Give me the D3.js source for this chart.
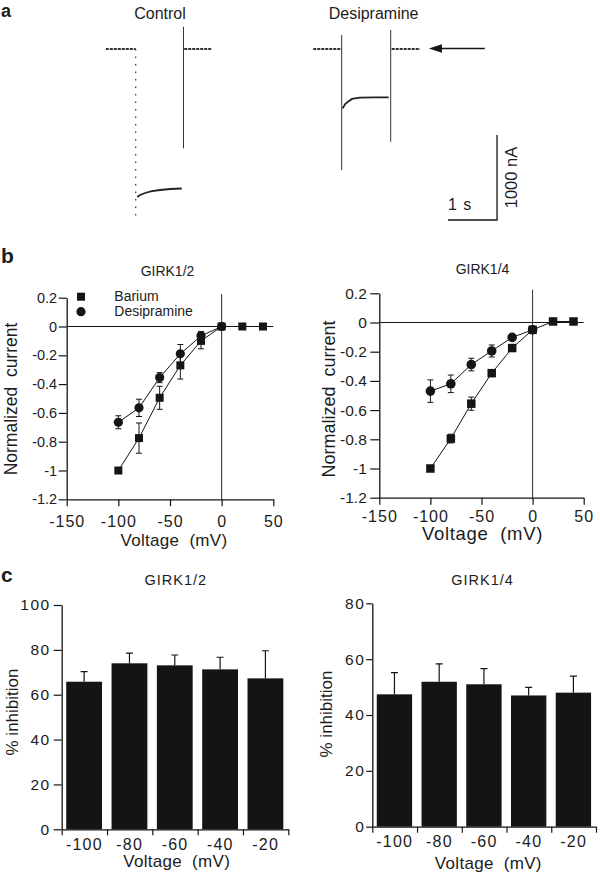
<!DOCTYPE html>
<html><head><meta charset="utf-8">
<script src="https://cdn.jsdelivr.net/npm/d3@7"></script>
<style>body{margin:0;background:#fff} svg{display:block}</style>
</head><body><svg id="fig" width="600" height="875"></svg>
<script>
// ---------------- DATA ----------------
// Panel b: I-V curves (normalized current vs voltage, mV)
const voltages = [-100, -80, -60, -40, -20, 0, 20, 40];
const desiVoltages = [-100, -80, -60, -40, -20, 0];
const barium12 = [-1.0, -0.775, -0.495, -0.27, -0.10, 0, 0, 0];
const barium12Err = [0, 0.105, 0.08, 0.095, 0.055, 0, 0, 0];
const desi12 = [-0.665, -0.565, -0.355, -0.19, -0.065, 0];
const desi12Err = [0.045, 0.06, 0.035, 0.065, 0.03, 0];
const barium14 = [-1.0, -0.795, -0.556, -0.347, -0.175, -0.05, 0.007, 0.007];
const barium14Err = [0, 0.03, 0.045, 0, 0, 0, 0, 0];
const desi14 = [-0.47, -0.42, -0.288, -0.195, -0.102, -0.05];
const desi14Err = [0.077, 0.06, 0.043, 0.041, 0.012, 0];
const ivXTicks = [-150, -100, -50, 0, 50];
const ivYTicks = [0.2, 0, -0.2, -0.4, -0.6, -0.8, -1, -1.2];
const legendLabels = ["Barium", "Desipramine"];

// Panel c: % inhibition bars
const barCats = ["-100", "-80", "-60", "-40", "-20"];
const inhib12 = [65.8, 74.0, 73.1, 71.3, 67.3];
const inhib12Err = [4.5, 4.5, 4.6, 5.4, 12.3];
const inhib14 = [47.4, 51.9, 51.0, 47.0, 48.0];
const inhib14Err = [7.8, 6.4, 5.6, 2.9, 5.9];
const inhib12Ticks = [0, 20, 40, 60, 80, 100];
const inhib14Ticks = [0, 20, 40, 60, 80];

// Panel a: current traces (time in s relative to pulse onset, current in nA)
const controlPre = [[-0.61, 0], [0, 0]];
const controlPulse = [[0.03, -1741], [0.09, -1718], [0.19, -1694], [0.33, -1671], [0.5, -1659], [0.7, -1647], [0.94, -1641]];
const controlPost = [[0.99, 0], [1.54, 0]];
const controlSpikes = [[0, 0, -1975], [0.975, 262, -1168]];
const desiPre = [[-0.58, 0], [0, 0]];
const desiPulse = [[0.02, -698], [0.07, -647], [0.13, -620], [0.21, -588], [0.37, -573], [0.68, -568], [0.96, -568]];
const desiPost = [[1.02, 0], [1.6, 0]];
const desiSpikes = [[0, 165, -1424], [1.0, 224, -1090]];
const arrowSpan = [2.92, 1.78];          // s, along the baseline of the desipramine trace
const scaleBarStart = [2.17, -2012];      // s, nA
const scaleBarSize = [1, 1000];           // 1 s, 1000 nA

// ---------------- DRAWING ----------------
const FONT = '"Liberation Sans", Arial, Helvetica, sans-serif';
const INK = "#151515";
const svg = d3.select("#fig");
svg.append("rect").attr("width", 600).attr("height", 875).attr("fill", "#fff");

function txt(x, y, s, size, opt = {}) {
  const t = svg.append("text").attr("x", x).attr("y", y).text(s)
    .attr("font-family", FONT).attr("font-size", size).attr("fill", opt.fill || "#1c1c1c")
    .attr("text-anchor", opt.anchor || "start");
  if (opt.bold) t.attr("font-weight", "bold");
  if (opt.ls) t.attr("letter-spacing", opt.ls);
  if (opt.rot) t.attr("transform", `rotate(${opt.rot},${x},${y})`);
  return t;
}

// panel letters
txt(1, 16.5, "a", 18, { bold: true });
txt(1, 263, "b", 21, { bold: true });
txt(1, 582, "c", 21, { bold: true });

// ---- Panel a ----
const iScale = d3.scaleLinear().domain([0, -1000]).range([49, 134]);
const tC = d3.scaleLinear().domain([0, 1]).range([135.7, 184.7]);
const tD = d3.scaleLinear().domain([0, 1]).range([341.7, 390.7]);

txt(160, 18.5, "Control", 16, { anchor: "middle" });
txt(373.6, 18.5, "Desipramine", 16, { anchor: "middle" });

function drawTrace(xs, pre, pulse, post, spikes, dottedOnset) {
  const ln = d3.line().x(d => xs(d[0])).y(d => iScale(d[1]));
  [pre, post].forEach(seg => {
    svg.append("path").attr("d", ln(seg)).attr("fill", "none")
      .attr("stroke", "#333").attr("stroke-width", 2.2).attr("stroke-dasharray", "3,1");
  });
  svg.append("path").attr("d", ln(pulse)).attr("fill", "none")
    .attr("stroke", "#222").attr("stroke-width", 1.8);
  spikes.forEach((s, i) => {
    const l = svg.append("line").attr("x1", xs(s[0])).attr("x2", xs(s[0]))
      .attr("y1", iScale(s[1])).attr("y2", iScale(s[2]))
      .attr("stroke", "#333").attr("stroke-width", 1);
    if (dottedOnset && i === 0) l.attr("stroke-dasharray", "1.5,6").attr("stroke-width", 1.2);
  });
}
drawTrace(tC, controlPre, controlPulse, controlPost, controlSpikes, true);
drawTrace(tD, desiPre, desiPulse, desiPost, desiSpikes, false);

// arrow pointing to baseline
{
  const ax0 = tD(arrowSpan[0]), ax1 = tD(arrowSpan[1]), ay = iScale(0) - 0.5;
  svg.append("line").attr("x1", ax0).attr("x2", ax1 + 10).attr("y1", ay).attr("y2", ay)
    .attr("stroke", INK).attr("stroke-width", 1.5);
  svg.append("path").attr("d", `M${ax1},${ay} L${ax1 + 13},${ay - 4.3} L${ax1 + 13},${ay + 4.3} Z`).attr("fill", INK);
}
// scale bar
{
  const sx0 = tD(scaleBarStart[0]), sx1 = tD(scaleBarStart[0] + scaleBarSize[0]);
  const sy0 = iScale(scaleBarStart[1]), sy1 = iScale(scaleBarStart[1] + scaleBarSize[1]);
  svg.append("path").attr("d", `M${sx0},${sy0} L${sx1},${sy0} L${sx1},${sy1}`)
    .attr("fill", "none").attr("stroke", INK).attr("stroke-width", 1.3);
  txt(sx0, sy0 - 10, "1 s", 16, { ls: 1 });
  txt(sx1 + 20, (sy0 + sy1) / 2, "1000 nA", 16.5, { anchor: "middle", rot: -90 });
}

// ---- Panel b ----
function styleAxis(g, size, ls) {
  g.attr("font-family", FONT);
  g.select(".domain").attr("stroke", INK).attr("stroke-width", 1.3);
  g.selectAll(".tick line").attr("stroke", INK).attr("stroke-width", 1.2);
  g.selectAll(".tick text").attr("fill", "#1c1c1c").attr("font-size", size);
  if (ls) g.selectAll(".tick text").attr("letter-spacing", ls);
}

function ivPanel(cfg) {
  const x = d3.scaleLinear().domain([-150, 50]).range(cfg.xr);
  const y = d3.scaleLinear().domain([-1.2, 0.2]).range(cfg.yr);
  const g = svg.append("g");
  g.append("line").attr("x1", x(-150)).attr("x2", x(50)).attr("y1", y(0)).attr("y2", y(0))
    .attr("stroke", INK).attr("stroke-width", 1.1);
  g.append("line").attr("x1", x(0)).attr("x2", x(0)).attr("y1", y(0.225)).attr("y2", y(-1.2))
    .attr("stroke", INK).attr("stroke-width", 0.9);
  const ya = g.append("g").attr("transform", `translate(${x(-150)},0)`)
    .call(d3.axisLeft(y).tickValues(ivYTicks).tickFormat(d => String(d)).tickSize(cfg.ytick).tickPadding(cfg.ypad).tickSizeOuter(0));
  styleAxis(ya, cfg.yfs);
  const xa = g.append("g").attr("transform", `translate(0,${y(-1.2)})`)
    .call(d3.axisBottom(x).tickValues(ivXTicks).tickFormat(d => String(d)).tickSize(7).tickPadding(cfg.xpad).tickSizeOuter(0));
  styleAxis(xa, 16, 1);

  const ln = d3.line().x(d => x(d[0])).y(d => y(d[1]));
  const bar = voltages.map((v, i) => [v, cfg.ba[i], cfg.baE[i]]);
  const des = desiVoltages.map((v, i) => [v, cfg.de[i], cfg.deE[i]]);
  [bar, des].forEach(ser => {
    g.append("path").attr("d", ln(ser)).attr("fill", "none").attr("stroke", INK).attr("stroke-width", 1);
    ser.filter(d => d[2] > 0).forEach(d => {
      const cx = x(d[0]), ya1 = y(d[1] + d[2]), ya2 = y(d[1] - d[2]);
      g.append("path").attr("d", `M${cx},${ya1} L${cx},${ya2} M${cx - 3},${ya1} L${cx + 3},${ya1} M${cx - 3},${ya2} L${cx + 3},${ya2}`)
        .attr("stroke", INK).attr("stroke-width", 1).attr("fill", "none");
    });
  });
  des.forEach(d => g.append("circle").attr("cx", x(d[0])).attr("cy", y(d[1])).attr("r", cfg.r).attr("fill", INK));
  bar.forEach(d => g.append("rect").attr("x", x(d[0]) - cfg.sq / 2).attr("y", y(d[1]) - cfg.sq / 2)
    .attr("width", cfg.sq).attr("height", cfg.sq).attr("fill", INK));

  txt(cfg.title[0], cfg.title[1], cfg.name, 14, { anchor: "middle" });
  txt(cfg.ylab[0], cfg.ylab[1], "Normalized\u00A0 current", cfg.ylab[2], { anchor: "middle", rot: -90 });
  txt(cfg.xlab[0], cfg.xlab[1], "Voltage\u00A0 (mV)", cfg.xlab[2], { anchor: "middle", ls: cfg.xlab[3] });
  return { x, y, g };
}

ivPanel({
  xr: [66.7, 273.3], yr: [499.3, 297.7], ytick: 8, ypad: 1.5, yfs: 14.5, xpad: 9,
  ba: barium12, baE: barium12Err, de: desi12, deE: desi12Err, sq: 8, r: 4.6,
  name: "GIRK1/2", title: [167.5, 276], ylab: [16.5, 399, 17.5], xlab: [174, 546, 17, 0.3]
});
ivPanel({
  xr: [379.3, 583.7], yr: [497.7, 293.3], ytick: 9, ypad: 3.5, yfs: 15.5, xpad: 5.5,
  ba: barium14, baE: barium14Err, de: desi14, deE: desi14Err, sq: 8.5, r: 4.8,
  name: "GIRK1/4", title: [482.5, 274.3], ylab: [335, 399, 18], xlab: [482.5, 540, 18.5, 0.7]
});
// legend
svg.append("rect").attr("x", 81 - 4).attr("y", 296.7 - 4).attr("width", 8).attr("height", 8).attr("fill", INK);
svg.append("circle").attr("cx", 81).attr("cy", 311.7).attr("r", 4.6).attr("fill", INK);
txt(114.3, 301, legendLabels[0], 14);
txt(114.3, 316, legendLabels[1], 14);

// ---- Panel c ----
function barPanel(cfg) {
  const x = d3.scaleBand().domain(barCats).range(cfg.xr).paddingInner(0).paddingOuter(0);
  const idx = d3.scaleLinear().domain([0, barCats.length]).range(cfg.xr);
  const y = d3.scaleLinear().domain([0, cfg.ymax]).range(cfg.yr);
  const g = svg.append("g");
  const step = x.step();
  cfg.vals.forEach((v, i) => {
    const c = barCats[i];
    g.append("rect").attr("x", x(c) + step * 0.1).attr("y", y(v)).attr("width", step * 0.79)
      .attr("height", y(0) - y(v)).attr("fill", "#141414");
    const cx = x(c) + step * 0.1 + step * 0.395;
    g.append("path").attr("d", `M${cx},${y(v)} L${cx},${y(v + cfg.errs[i])} M${cx - 3.5},${y(v + cfg.errs[i])} L${cx + 3.5},${y(v + cfg.errs[i])}`)
      .attr("stroke", INK).attr("stroke-width", 1.2).attr("fill", "none");
  });
  const ya = g.append("g").attr("transform", `translate(${cfg.xr[0]},0)`)
    .call(d3.axisLeft(y).tickValues(cfg.ticks).tickFormat(d => String(d)).tickSize(cfg.ytick).tickPadding(cfg.ypad).tickSizeOuter(0));
  styleAxis(ya, 15.5, 1.5);
  const xt = g.append("g").attr("transform", `translate(0,${y(0)})`)
    .call(d3.axisBottom(idx).tickValues(d3.range(barCats.length + 1)).tickFormat("").tickSize(6).tickSizeOuter(0));
  styleAxis(xt, 10);
  const xl = g.append("g").attr("transform", `translate(0,${y(0)})`)
    .call(d3.axisBottom(x).tickSize(0).tickPadding(9));
  xl.select(".domain").remove();
  xl.attr("font-family", FONT).selectAll("text").attr("font-size", 16).attr("letter-spacing", 1.2).attr("fill", "#1c1c1c");

  txt(cfg.title[0], cfg.title[1], cfg.name, 14.5, { anchor: "middle", ls: 1 });
  txt(cfg.ylab[0], cfg.ylab[1], "% inhibition", 17, { anchor: "middle", rot: -90 });
  txt(cfg.xlab[0], cfg.xlab[1], "Voltage\u00A0 (mV)", 17, { anchor: "middle", ls: 0.3 });
}
barPanel({
  xr: [61.7, 288.3], yr: [829.3, 605], ymax: 100, ticks: inhib12Ticks, ytick: 8, ypad: 3,
  vals: inhib12, errs: inhib12Err, name: "GIRK1/2", title: [175.8, 585], ylab: [18.3, 712], xlab: [176.7, 867]
});
barPanel({
  xr: [372.3, 596], yr: [826.7, 603.3], ymax: 80, ticks: inhib14Ticks, ytick: 6, ypad: 1,
  vals: inhib14, errs: inhib14Err, name: "GIRK1/4", title: [482.5, 585], ylab: [331.7, 714], xlab: [488.3, 869]
});
</script>
</body></html>
